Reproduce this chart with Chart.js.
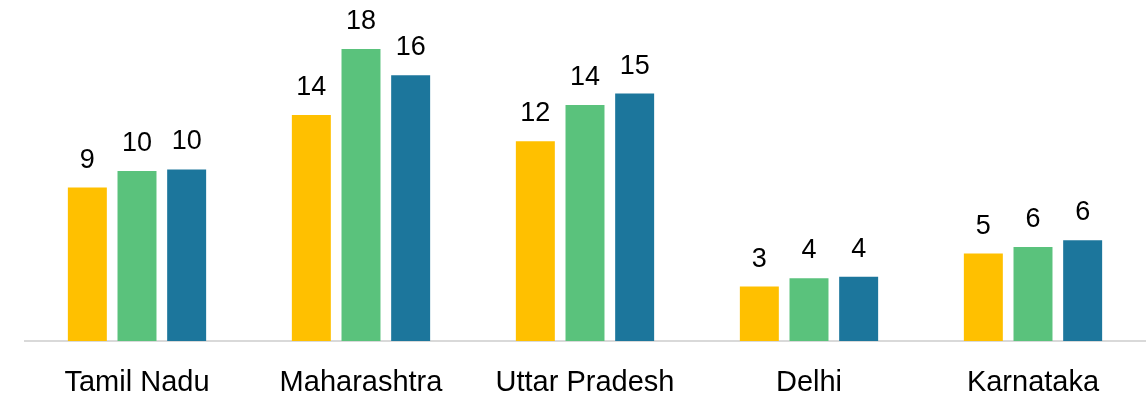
<!DOCTYPE html>
<html>
<head>
<meta charset="utf-8">
<script src="https://cdn.jsdelivr.net/npm/chart.js@4.4.1/dist/chart.umd.min.js"></script>
<style>
  html, body { margin: 0; padding: 0; background: #fff; }
  #wrap { width: 1147px; height: 401px; position: relative; }
</style>
</head>
<body>
<div id="wrap"><canvas id="stateChart"></canvas></div>
<script>
// categorías y series
const states = ['Tamil Nadu', 'Maharashtra', 'Uttar Pradesh', 'Delhi', 'Karnataka'];
const seriesA = [9.3, 13.7, 12.1, 3.3, 5.3];
const seriesB = [10.3, 17.7, 14.3, 3.8, 5.7];
const seriesC = [10.4, 16.1, 15.0, 3.9, 6.1];
const seriesNames = ['Series 1', 'Series 2', 'Series 3'];
const seriesColors = ['#FFC000', '#5AC27C', '#1C769C'];

// etiquetas de valor encima de cada barra (sin plugin externo)
const valueLabels = {
    id: 'valueLabels',
    afterDatasetsDraw(chart) {
        const ctx = chart.ctx;
        ctx.save();
        ctx.font = '27px "Liberation Sans", Arial, sans-serif';
        ctx.fillStyle = '#000';
        ctx.textAlign = 'center';
        ctx.textBaseline = 'alphabetic';
        chart.data.datasets.forEach((ds, i) => {
            chart.getDatasetMeta(i).data.forEach((bar, j) => {
                ctx.fillText(Math.round(ds.data[j]).toString(), bar.x, bar.y - 20);
            });
        });
        ctx.restore();
    }
};

const ctx = document.getElementById('stateChart').getContext('2d');
new Chart(ctx, {
    type: 'bar',
    data: {
        labels: states,
        datasets: [seriesA, seriesB, seriesC].map((values, i) => ({
            label: seriesNames[i],
            data: values,
            backgroundColor: seriesColors[i],
            categoryPercentage: 0.665,
            barPercentage: 0.785
        }))
    },
    options: {
        responsive: true,
        maintainAspectRatio: false,
        animation: false,
        layout: { padding: { left: 25, right: 2, top: 11, bottom: 3 } },
        plugins: {
            legend: { display: false },
            tooltip: { enabled: false }
        },
        scales: {
            x: {
                grid: { display: false, drawTicks: false },
                border: { display: true, color: '#D9D9D9', width: 2 },
                ticks: {
                    color: '#000',
                    padding: 25,
                    font: { family: '"Liberation Sans", Arial, sans-serif', size: 29 }
                },
                afterFit(scale) { scale.height = 57; }
            },
            y: {
                display: false,
                min: 0,
                max: 20
            }
        }
    },
    plugins: [valueLabels]
});
</script>
</body>
</html>
